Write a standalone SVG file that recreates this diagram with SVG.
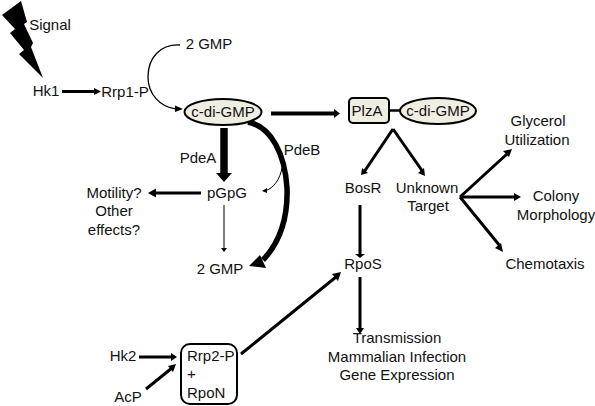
<svg xmlns="http://www.w3.org/2000/svg" width="595" height="406" viewBox="0 0 595 406">
<style>
text{font-family:"Liberation Sans",Arial,sans-serif;font-size:15px;fill:#111;text-anchor:middle}
.a{text-anchor:start}
.l{fill:none;stroke:#000;stroke-linecap:butt}
.s{fill:#f0eee2;stroke:#000;stroke-width:2}
.h{fill:#000;stroke:none}
</style>
<rect width="595" height="406" fill="#fff"/>
<g id="connectors">
<path class="l" stroke-width="3" d="M62 91.500H96"/><path class="h" d="M94 88L101 91.500L94 95Z"/>
<path class="l" stroke-width="1.300" d="M180 45C160 44 148 58 148 77C148 94 160 107 176 109"/><path class="h" d="M175 105.500L183 109L175 112Z"/>
<path class="l" stroke-width="4" d="M271 113.500H336"/><path class="h" d="M334 109L340 113.500L334 118Z"/>
<path class="l" stroke-width="7.500" d="M224 128V174"/><path class="h" d="M216 173H232L224 182Z"/>
<path class="l" stroke-width="3" d="M201 193H155"/><path class="h" d="M156 188.500L148 193L156 197.500Z"/>
<path class="l" stroke-width="1" d="M224 205V248"/><path class="h" d="M221 248H227L224 252Z"/>
<path class="l" stroke-width="5.500" d="M248 122C272 127 285 155 287 188C288 218 279 243 263 260"/><path class="h" d="M249 266L260 255L266 268Z"/>
<path class="l" stroke-width="1" d="M282 168C280 179 274 188 265 191"/><path class="h" d="M262 191L267 188L267 193Z"/>
<path class="l" stroke-width="3" d="M393 129L364 172"/><path class="h" d="M361 175L362 168L368 173Z"/>
<path class="l" stroke-width="3" d="M393 129L423 172"/><path class="h" d="M425 176L418 173L424 168Z"/>
<path class="l" stroke-width="3" d="M460 197L507 154"/><path class="h" d="M512 149L509 157L503 151Z"/>
<path class="l" stroke-width="3" d="M460 197H516"/><path class="h" d="M521 197L514 193V201Z"/>
<path class="l" stroke-width="3" d="M460 197L500 246"/><path class="h" d="M503 252L495 248L501 243Z"/>
<path class="l" stroke-width="3" d="M360 205V254"/><path class="h" d="M355 254H365L360 258Z"/>
<path class="l" stroke-width="3" d="M360 277V329"/><path class="h" d="M356 328H364L360 334Z"/>
<path class="l" stroke-width="3" d="M241 354L336 277"/><path class="h" d="M341 272L338 281L332 274Z"/>
<path class="l" stroke-width="3" d="M139 357H172"/><path class="h" d="M171 353L177 357L171 361Z"/>
<path class="l" stroke-width="3" d="M146 389L172 368"/><path class="h" d="M176 364L173 372L168 366Z"/>
</g>
<g id="signal"><path class="h" d="M2 15L21 1L27 22L24 24L33 43L31 47L43 78L19 54L24 50L10 33L15 29Z"/><text x="50" y="30">Signal</text></g>
<g id="hk1"><text x="46" y="96">Hk1</text></g>
<g id="rrp1p"><text x="125" y="97">Rrp1-P</text></g>
<g id="gmp-top"><text x="209" y="49">2 GMP</text></g>
<g id="cdigmp"><ellipse class="s" cx="223" cy="112" rx="38.500" ry="13"/><text x="223" y="117">c-di-GMP</text></g>
<g id="pdea"><text x="198" y="163">PdeA</text></g>
<g id="pdeb"><text x="302" y="155">PdeB</text></g>
<g id="pgpg"><text x="227" y="198">pGpG</text></g>
<g id="motility"><text x="114" y="198">Motility?</text><text x="114" y="216">Other</text><text x="114" y="235">effects?</text></g>
<g id="gmp-bottom"><text x="220" y="274">2 GMP</text></g>
<g id="plza"><rect class="s" x="349" y="98" width="40" height="25" rx="4"/><line x1="390" y1="110.500" x2="400" y2="110.500" stroke="#000" stroke-width="2.500"/><text x="367" y="116">PlzA</text></g>
<g id="cdigmp2"><ellipse class="s" cx="438" cy="111" rx="38" ry="13"/><text x="438" y="116">c-di-GMP</text></g>
<g id="bosr"><text x="363" y="193">BosR</text></g>
<g id="unknown"><text x="427" y="193">Unknown</text><text x="428" y="211">Target</text></g>
<g id="glycerol"><text x="538" y="126">Glycerol</text><text x="537" y="145">Utilization</text></g>
<g id="colony"><text x="556" y="201">Colony</text><text x="556" y="220">Morphology</text></g>
<g id="chemotaxis"><text x="545" y="269">Chemotaxis</text></g>
<g id="rpos"><text x="363" y="269">RpoS</text></g>
<g id="transmission"><text x="397" y="343">Transmission</text><text x="397" y="362">Mammalian Infection</text><text x="397" y="380">Gene Expression</text></g>
<g id="hk2"><text x="123" y="361">Hk2</text></g>
<g id="acp"><text x="128" y="402">AcP</text></g>
<g id="rrp2"><rect x="181" y="344" width="56" height="60" rx="9" fill="#fff" stroke="#000" stroke-width="2"/><text class="a" x="187" y="361">Rrp2-P</text><text class="a" x="187" y="379">+</text><text class="a" x="187" y="398">RpoN</text></g>
</svg>
